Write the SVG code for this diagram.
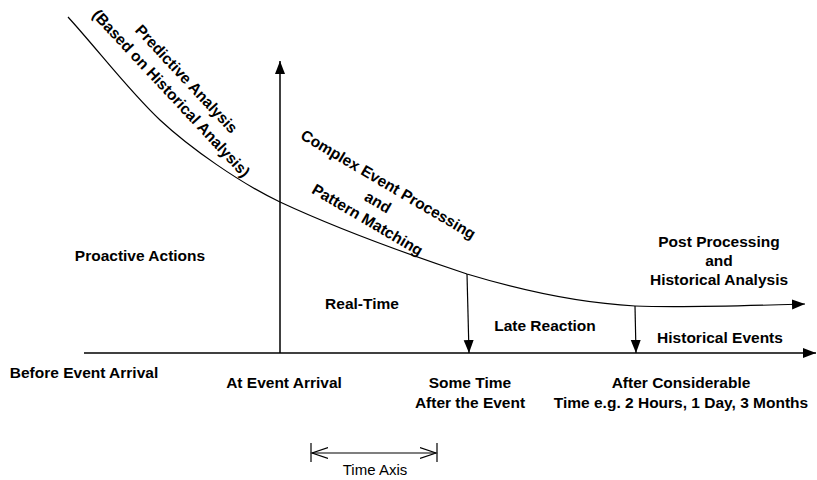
<svg xmlns="http://www.w3.org/2000/svg" width="817" height="480" viewBox="0 0 817 480">
<style>
  .ln { fill: none; stroke: #000; stroke-width: 1.5; }
  .thin { fill: none; stroke: #000; stroke-width: 1.2; }
  .b { font-family: "Liberation Sans", Arial, Helvetica, sans-serif; font-weight: bold; font-size: 15.5px; fill: #000; text-anchor: middle; }
  .r { font-family: "Liberation Sans", Arial, Helvetica, sans-serif; font-size: 15px; fill: #000; text-anchor: middle; }
</style>
<defs>
  <marker id="arr" markerUnits="userSpaceOnUse" markerWidth="14" markerHeight="12" refX="13" refY="5" orient="auto" viewBox="0 0 14 10">
    <path d="M0,0 L13,5 L0,10 z" fill="#000"/>
  </marker>
  <marker id="open" markerUnits="userSpaceOnUse" markerWidth="18" markerHeight="14" refX="16" refY="6" orient="auto" viewBox="0 0 18 12">
    <path d="M0,0.5 L16,6 L0,11.5" fill="none" stroke="#000" stroke-width="1.2"/>
  </marker>
</defs>
<rect width="817" height="480" fill="#fff"/>
<g id="connectors">
  <line id="time-axis" class="ln" x1="84" y1="353" x2="816" y2="353" marker-end="url(#arr)"/>
  <line id="vertical-axis" class="ln" x1="280" y1="353" x2="280" y2="61" marker-end="url(#arr)"/>
  <path id="curve" class="thin" d="M68,17 C98,50 130,92 160,120 C190,148 240,183 280,202 C340,230 410,255 467,274 C520,290 580,303 635,306 C680,308 740,306 805,304" marker-end="url(#arr)"/>
  <line id="drop-1" class="thin" x1="467" y1="274" x2="469" y2="353" marker-end="url(#arr)"/>
  <line id="drop-2" class="thin" x1="635" y1="306" x2="636" y2="353" marker-end="url(#arr)"/>
  <g id="scale-bar">
    <line class="thin" x1="311" y1="443" x2="311" y2="462"/>
    <line class="thin" x1="437" y1="443" x2="437" y2="462"/>
    <line class="thin" x1="374" y1="453" x2="312" y2="453" marker-end="url(#open)"/>
    <line class="thin" x1="374" y1="453" x2="436" y2="453" marker-end="url(#open)"/>
  </g>
</g>
<g id="predictive" transform="translate(179,86) rotate(47)">
  <text class="b" x="0" y="-5">Predictive Analysis</text>
  <text class="b" x="0" y="16">(Based on Historical Analysis)</text>
</g>
<g id="cep" transform="translate(378,202) rotate(30.5)">
  <text class="b" x="0" y="-15">Complex Event Processing</text>
  <text class="b" x="0" y="5.5">and</text>
  <text class="b" x="0" y="26">Pattern Matching</text>
</g>
<g id="proactive"><text class="b" x="140" y="261">Proactive Actions</text></g>
<g id="realtime"><text class="b" x="362" y="309">Real-Time</text></g>
<g id="late"><text class="b" x="545" y="331">Late Reaction</text></g>
<g id="historical-events"><text class="b" x="720" y="343">Historical Events</text></g>
<g id="post">
  <text class="b" x="719" y="247">Post Processing</text>
  <text class="b" x="719" y="266">and</text>
  <text class="b" x="719" y="285">Historical Analysis</text>
</g>
<g id="before"><text class="b" x="84" y="378">Before Event Arrival</text></g>
<g id="at"><text class="b" x="284" y="388">At Event Arrival</text></g>
<g id="some">
  <text class="b" x="470" y="388">Some Time</text>
  <text class="b" x="470" y="408">After the Event</text>
</g>
<g id="after">
  <text class="b" x="681" y="388">After Considerable</text>
  <text class="b" x="681" y="408">Time e.g. 2 Hours, 1 Day, 3 Months</text>
</g>
<g id="time-axis-label"><text class="r" x="375" y="475">Time Axis</text></g>
</svg>
